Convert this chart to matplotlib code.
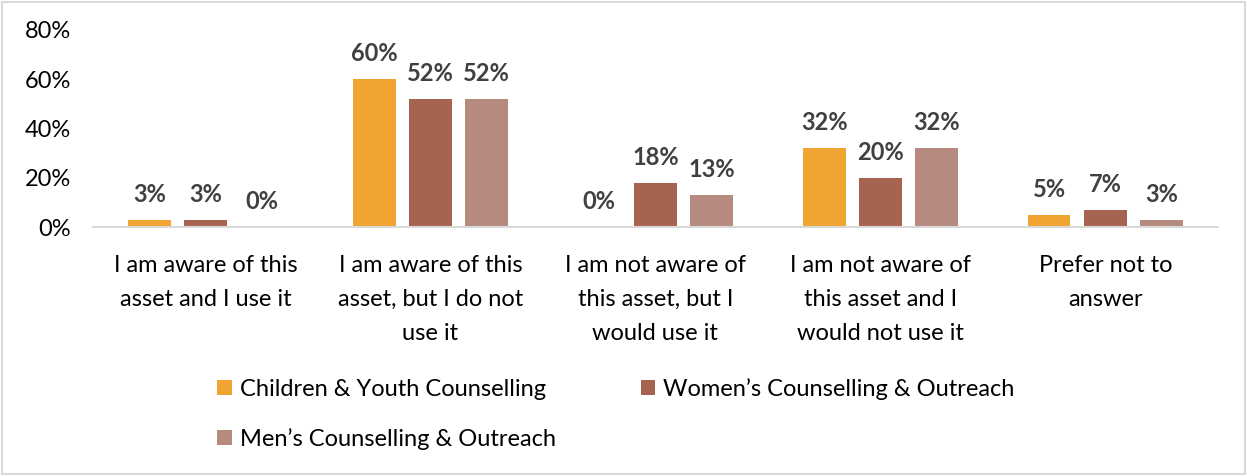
import numpy as np
import matplotlib.pyplot as plt
from matplotlib.patches import Rectangle

categories = [
    "I am aware of this\nasset and I use it",
    "I am aware of this\nasset, but I do not\nuse it",
    "I am not aware of\nthis asset, but I\nwould use it",
    "I am not aware of\nthis asset and I\nwould not use it",
    "Prefer not to\nanswer",
]
series_names = [
    "Children & Youth Counselling",
    "Women\u2019s Counselling & Outreach",
    "Men\u2019s Counselling & Outreach",
]
children = [3, 60, 0, 32, 5]
women = [3, 52, 18, 20, 7]
men = [0, 52, 13, 32, 3]
colors = ["#F0A432", "#A66450", "#B78A7F"]

plt.rcParams['font.family'] = ['Lato', 'DejaVu Sans']

fig = plt.figure(figsize=(12.47, 4.76), dpi=100)
ax = fig.add_axes([0.0746, 0.523, 0.902, 0.414])

x = np.arange(len(categories))
width = 0.19
step = 0.25
handles = []
for i, (vals, name, c) in enumerate(zip([children, women, men], series_names, colors)):
    pos = x + (i - 1) * step
    bars = ax.bar(pos, np.array(vals) / 100, width, color=c, label=name)
    handles.append(bars)
    for b, v in zip(bars, vals):
        ax.text(b.get_x() + b.get_width() / 2, b.get_height() + 0.056, f"{v}%",
                ha='center', va='bottom', fontsize=17, fontweight='bold',
                color='#404040')

ax.set_xlim(-0.5, len(categories) - 0.5)
ax.set_ylim(0, 0.8)
ax.set_yticks([0, 0.2, 0.4, 0.6, 0.8])
ax.set_yticklabels(["0%", "20%", "40%", "60%", "80%"])
ax.set_xticks(x)
ax.set_xticklabels(categories, linespacing=1.78)
ax.tick_params(axis='both', length=0, labelsize=17, colors='black')
ax.tick_params(axis='x', pad=20)
ax.tick_params(axis='y', pad=16)
for side in ['top', 'right', 'left']:
    ax.spines[side].set_visible(False)
ax.spines['bottom'].set_color('#D9D9D9')
ax.spines['bottom'].set_linewidth(1.5)

# legend fills columns first, so reorder to get row-wise entries
order = [0, 2, 1]
fig.legend([handles[k] for k in order], [series_names[k] for k in order],
           loc='upper center', bbox_to_anchor=(0.494, 0.25), ncol=2,
           frameon=False, fontsize=17, handlelength=0.6, handleheight=0.6,
           handletextpad=0.35, columnspacing=3.6, labelspacing=1.2)

fig.patches.append(Rectangle((0.002, 0.004), 0.996, 0.992, transform=fig.transFigure,
                             fill=False, edgecolor='#D9D9D9', linewidth=1.5))

fig.savefig("out.png", dpi=100)
